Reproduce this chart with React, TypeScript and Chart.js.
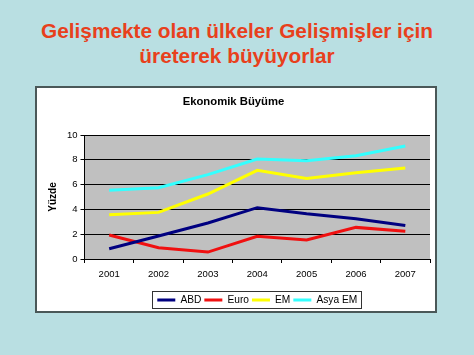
import React, { useEffect, useRef } from "react";
import { Chart, registerables } from "chart.js";

Chart.register(...registerables);

const pageTitle = ["Gelişmekte olan ülkeler Gelişmişler için", "üreterek büyüyorlar"];
const chartTitle = "Ekonomik Büyüme";
const yAxisTitle = "Yüzde";
const years = ["2001", "2002", "2003", "2004", "2005", "2006", "2007"];
const seriesNames = ["ABD", "Euro", "EM", "Asya EM"];
const abd = [0.83, 1.85, 2.9, 4.14, 3.65, 3.25, 2.7];
const euro = [1.94, 0.91, 0.56, 1.83, 1.53, 2.55, 2.23];
const em = [3.57, 3.76, 5.24, 7.15, 6.5, 6.96, 7.34];
const asyaEm = [5.54, 5.75, 6.8, 8.06, 7.93, 8.33, 9.11];
const yMin = 0;
const yMax = 10;
const yStep = 2;

const seriesColors = ["#000080", "#f01010", "#ffff00", "#33ffff"];
const FONT = "'Liberation Sans', Arial, sans-serif";

const plotBg = {
  id: "plotBg",
  beforeDraw(chart: any) {
    const { ctx, chartArea } = chart;
    ctx.save();
    ctx.fillStyle = "#c0c0c0";
    ctx.fillRect(chartArea.left, chartArea.top, chartArea.right - chartArea.left, chartArea.bottom - chartArea.top);
    ctx.restore();
  },
};

const legendBorder = {
  id: "legendBorder",
  afterDraw(chart: any) {
    const lg = chart.legend;
    if (!lg || !lg.legendHitBoxes || !lg.legendHitBoxes.length) return;
    const hb = lg.legendHitBoxes;
    let l = Infinity, r = -Infinity, t = Infinity, b = -Infinity;
    hb.forEach((h: any) => {
      l = Math.min(l, h.left);
      r = Math.max(r, h.left + h.width);
      t = Math.min(t, h.top);
      b = Math.max(b, h.top + h.height);
    });
    const { ctx } = chart;
    ctx.save();
    ctx.strokeStyle = "#333";
    ctx.lineWidth = 1;
    ctx.strokeRect(Math.round(l - 5) + 0.5, Math.round(t - 4) + 0.5, Math.round(r - l + 9), Math.round(b - t + 7));
    ctx.restore();
  },
};

export default function App() {
  const ref = useRef<HTMLCanvasElement | null>(null);

  useEffect(() => {
    if (!ref.current) return;
    const data = [abd, euro, em, asyaEm];
    const chart = new Chart(ref.current, {
      type: "line",
      data: {
        labels: years,
        datasets: seriesNames.map((name, i) => ({
          label: name,
          data: data[i],
          borderColor: seriesColors[i],
          backgroundColor: seriesColors[i],
          borderWidth: 3,
          pointRadius: 0,
          tension: 0,
          fill: false,
        })),
      },
      options: {
        animation: false,
        responsive: false,
        layout: { padding: { left: 0, right: 5, top: 0, bottom: 12.9 } },
        plugins: {
          title: {
            display: true,
            text: chartTitle,
            color: "#000",
            font: { family: FONT, size: 11.3, weight: "bold" },
            padding: { top: 7.2, bottom: 26.24 },
          },
          legend: {
            position: "bottom",
            fullSize: false,
            labels: {
              boxWidth: 18,
              boxHeight: 3,
              padding: 3,
              color: "#000",
              font: { family: FONT, size: 10.2 },
              generateLabels(c: any) {
                const items = Chart.defaults.plugins.legend.labels.generateLabels(c);
                return items.map((it: any, i: number) => ({ ...it, fillStyle: seriesColors[i], lineWidth: 0 }));
              },
            },
          },
          tooltip: { enabled: false },
        },
        scales: {
          x: {
            type: "category",
            offset: true,
            grid: { offset: true, drawOnChartArea: false, drawTicks: true, tickLength: 4, color: "#000" },
            border: { color: "#000", width: 1 },
            ticks: { color: "#000", font: { family: FONT, size: 9.5 }, padding: 6, maxRotation: 0 },
            afterFit: (s: any) => {
              s.height = 32.9;
            },
          },
          y: {
            min: yMin,
            max: yMax,
            ticks: { stepSize: yStep, color: "#000", font: { family: FONT, size: 9.5 }, padding: 3 },
            grid: { color: "#000", lineWidth: 1, tickLength: 4 },
            border: { color: "#000", width: 1 },
            title: {
              display: true,
              text: yAxisTitle,
              color: "#000",
              font: { family: FONT, size: 10, weight: "bold" },
              padding: { top: 10, bottom: 0 },
            },
            afterFit: (s: any) => {
              s.width = 47.5;
            },
          },
        },
      },
      plugins: [plotBg, legendBorder],
    } as any);
    return () => chart.destroy();
  }, []);

  return (
    <div style={{ position: "fixed", left: 0, top: 0, width: 474, height: 355, background: "#b9dfe2", overflow: "hidden", fontFamily: FONT }}>
      <div
        style={{
          position: "absolute",
          left: 0,
          top: 17.8,
          width: 474,
          textAlign: "center",
          color: "#e8401c",
          fontWeight: "bold",
          fontSize: 20.8,
          lineHeight: "25.3px",
        }}
      >
        {pageTitle.map((t, i) => (
          <div key={i}>{t}</div>
        ))}
      </div>
      <div
        style={{
          position: "absolute",
          left: 35,
          top: 86,
          width: 402,
          height: 227,
          boxSizing: "border-box",
          background: "#fff",
          border: "2px solid #4a5858",
        }}
      />
      <canvas ref={ref} width={398} height={240} style={{ position: "absolute", left: 37, top: 88, width: 398, height: 240 }} />
    </div>
  );
}
